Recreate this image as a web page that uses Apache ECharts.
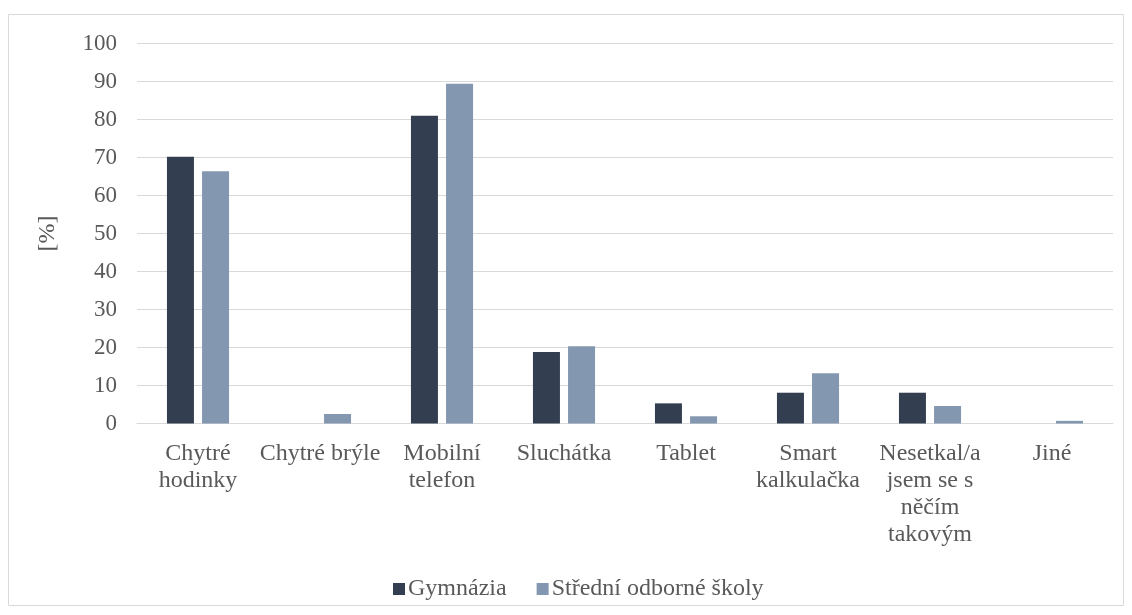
<!DOCTYPE html>
<html>
<head>
<meta charset="utf-8">
<script src="https://cdn.jsdelivr.net/npm/echarts@6/dist/echarts.min.js"></script>
<style>html,body{margin:0;padding:0;background:#fff}#c{width:1132px;height:615px}</style>
</head>
<body>
<div id="c"></div>
<script>
const categories = ['Chytré\nhodinky', 'Chytré brýle', 'Mobilní\ntelefon', 'Sluchátka', 'Tablet', 'Smart\nkalkulačka', 'Nesetkal/a\njsem se s\nněčím\ntakovým', 'Jiné'];
const gymnazia = [70.2, 0, 81.0, 18.8, 5.3, 8.1, 8.1, 0];
const sos = [66.4, 2.5, 89.4, 20.3, 1.9, 13.2, 4.6, 0.7];
const seriesNames = ['Gymnázia', 'Střední odborné školy'];
const yAxisName = '[%]';

const FONT = '"Liberation Serif", "Times New Roman", serif';
const TXT = '#595959';
const chart = echarts.init(document.getElementById('c'), null, {renderer: 'canvas'});
chart.setOption({
  animation: false,
  backgroundColor: '#fff',
  textStyle: {fontFamily: FONT},
  graphic: [{
    type: 'rect', shape: {x: 8.5, y: 14.5, width: 1115, height: 591},
    style: {fill: 'none', stroke: '#d9d9d9', lineWidth: 1}, silent: true, z: -1
  }],
  grid: {left: 137, right: 19, top: 43.5, bottom: 191.5, containLabel: false},
  legend: {
    left: 388, top: 572, itemWidth: 12, itemHeight: 12, itemGap: 30,
    icon: 'rect',
    textStyle: {fontFamily: FONT, fontSize: 24, color: TXT, padding: [0, 0, 0, -2]},
    data: seriesNames
  },
  xAxis: {
    type: 'category', data: categories,
    axisLine: {show: true, lineStyle: {color: '#d9d9d9', width: 1}},
    axisTick: {show: false},
    axisLabel: {fontFamily: FONT, fontSize: 24, color: TXT, lineHeight: 27, margin: 17, interval: 0, align: 'center'}
  },
  yAxis: {
    type: 'value', min: 0, max: 100, interval: 10,
    name: yAxisName, nameLocation: 'middle', nameRotate: 90, nameGap: 77,
    nameTextStyle: {fontFamily: FONT, fontSize: 24, color: TXT},
    axisLine: {show: false}, axisTick: {show: false},
    axisLabel: {fontFamily: FONT, fontSize: 23, color: TXT, margin: 20},
    splitLine: {lineStyle: {color: '#d9d9d9', width: 1}}
  },
  series: [
    {name: seriesNames[0], type: 'bar', data: gymnazia, barWidth: 27, barGap: '30%', itemStyle: {color: '#333F50'}},
    {name: seriesNames[1], type: 'bar', data: sos, barWidth: 27, barGap: '30%', itemStyle: {color: '#8497B0'}}
  ]
});
</script>
</body>
</html>
